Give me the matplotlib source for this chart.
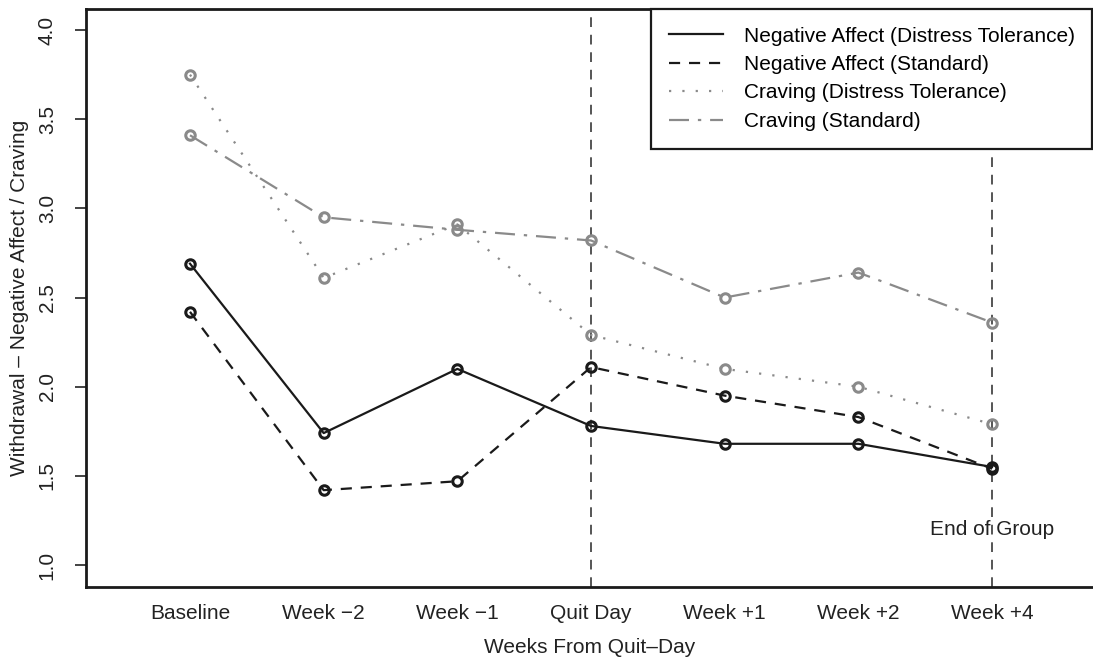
import numpy as np
import matplotlib.pyplot as plt

plt.rcParams['font.family'] = ['Liberation Sans', 'DejaVu Sans']

# -----------------------------
# Data
# -----------------------------
weeks = ["Baseline", "Week \u22122", "Week \u22121", "Quit Day", "Week +1", "Week +2", "Week +4"]
neg_affect_dt = [2.69, 1.74, 2.10, 1.78, 1.68, 1.68, 1.55]
neg_affect_std = [2.42, 1.42, 1.47, 2.11, 1.95, 1.83, 1.54]
craving_dt = [3.75, 2.61, 2.91, 2.29, 2.10, 2.00, 1.79]
craving_std = [3.41, 2.95, 2.88, 2.82, 2.50, 2.64, 2.36]

x = np.arange(1, len(weeks) + 1)

black = "#1a1a1a"
gray = "#8a8a8a"
txt = "#222222"
fs = 15

# -----------------------------
# Figure
# -----------------------------
fig = plt.figure(figsize=(10.93, 6.64), dpi=100)
ax = fig.add_axes([86 / 1093, 77 / 664, 1007 / 1093, 578 / 664])

mk = dict(marker="o", markersize=6.8, markerfacecolor="none", markeredgewidth=2.2)

ax.plot(x, neg_affect_dt, color=black, lw=1.6, linestyle="-",
        markeredgecolor=black, label="Negative Affect (Distress Tolerance)", **mk)
ax.plot(x, neg_affect_std, color=black, lw=1.6, linestyle=(0, (5, 4)),
        markeredgecolor=black, label="Negative Affect (Standard)", **mk)
ax.plot(x, craving_dt, color=gray, lw=1.6, linestyle=(0, (1, 5)),
        markeredgecolor=gray, label="Craving (Distress Tolerance)", **mk)
ax.plot(x, craving_std, color=gray, lw=1.6, linestyle=(0, (9, 4, 1.5, 4)),
        markeredgecolor=gray, label="Craving (Standard)", **mk)

# vertical reference lines
for xv in [4, 7]:
    ax.axvline(xv, color="#555555", lw=1.4, linestyle=(0, (5, 4)), zorder=0)

ax.text(7, 1.2, "End of Group", ha="center", va="center", fontsize=fs, color=txt)

# -----------------------------
# Axes styling (R-like, bty="c")
# -----------------------------
ax.set_xlim(0.222, 7.755)
ax.set_ylim(0.877, 4.118)

ax.spines["right"].set_visible(False)
for s in ["left", "bottom", "top"]:
    ax.spines[s].set_linewidth(2.0)
    ax.spines[s].set_color(black)

ax.set_yticks([1.0, 1.5, 2.0, 2.5, 3.0, 3.5, 4.0])
ax.set_yticklabels(["1.0", "1.5", "2.0", "2.5", "3.0", "3.5", "4.0"],
                   rotation=90, va="center", fontsize=fs, color=txt)
ax.tick_params(axis="y", length=8, width=1.2, pad=13, colors=txt)

ax.set_xticks(x)
ax.set_xticklabels(weeks, fontsize=fs, color=txt)
ax.tick_params(axis="x", length=0, pad=12)

ax.set_xlabel("Weeks From Quit\u2013Day", fontsize=fs, color=txt, labelpad=11)
ax.set_ylabel("Withdrawal \u2013 Negative Affect / Craving", fontsize=fs,
              color=txt, labelpad=6)

leg = ax.legend(loc="upper right", bbox_to_anchor=(0.9995, 1.0), fontsize=fs,
                frameon=True, fancybox=False, framealpha=1, edgecolor=black,
                handlelength=2.6, handletextpad=1.0, labelspacing=0.45,
                borderpad=0.85, borderaxespad=0.0)
leg.get_frame().set_linewidth(1.6)
for h in leg.legend_handles:
    h.set_marker("")

fig.savefig("out.png", dpi=100)
